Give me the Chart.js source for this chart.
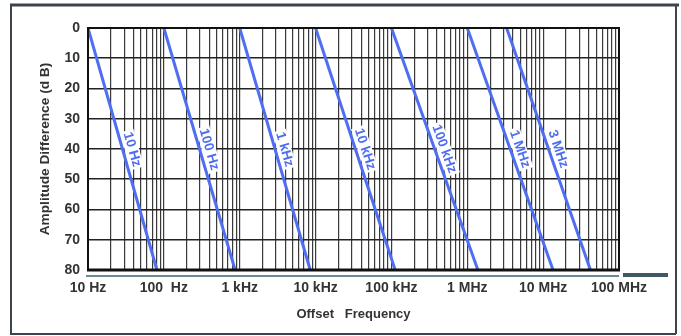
<!DOCTYPE html>
<html>
<head>
<meta charset="utf-8">
<script src="https://cdn.jsdelivr.net/npm/chart.js@4"></script>
<style>
  html, body { margin: 0; padding: 0; background: #fff; }
</style>
</head>
<body>
<canvas id="chart" width="681" height="336"></canvas>
<script>
// one sloped line per filter bandwidth: starts at 0 dB, ends at 80 dB
const lineLabels = ['10 Hz', '100 Hz', '1 kHz', '10 kHz', '100 kHz', '1 MHz', '3 MHz'];
const startFreq = [10, 100, 1000, 10000, 100000, 1000000, 3300000];
const endFreq = [81, 870, 8500, 112000, 1380000, 13500000, 42000000];
const startDb = 0;
const endDb = 80;

const decadeTicks = [10, 100, 1e3, 1e4, 1e5, 1e6, 1e7, 1e8];
const decadeLabels = ['10 Hz', '100  Hz', '1 kHz', '10 kHz', '100 kHz', '1 MHz', '10 MHz', '100 MHz'];
const dbTicks = [0, 10, 20, 30, 40, 50, 60, 70, 80];

const labelDb = 41;
const blue = '#4f6ef0';
const ink = '#333333';
const family = '"Liberation Sans", Arial, sans-serif';

// vertical grid at 1..9 x every decade
const gridTicks = [];
for (let e = 1; e < 8; e++) {
  for (let m = 1; m < 10; m++) gridTicks.push(m * Math.pow(10, e));
}
gridTicks.push(1e8);

const datasets = lineLabels.map((name, i) => ({
  label: name,
  data: [{x: startFreq[i], y: startDb}, {x: endFreq[i], y: endDb}],
  borderColor: blue,
  borderWidth: 3,
  pointRadius: 0,
  fill: false,
}));

const framePlugin = {
  id: 'frame',
  beforeDraw(chart) {
    const c = chart.ctx;
    c.save();
    c.fillStyle = '#fff';
    c.fillRect(0, 0, chart.width, chart.height);
    c.restore();
  },
  afterDraw(chart) {
    const c = chart.ctx;
    const a = chart.chartArea;
    c.save();
    // outer frame
    c.strokeStyle = '#3c434b';
    c.lineWidth = 3;
    c.beginPath(); c.moveTo(10, 5); c.lineTo(679, 5); c.stroke();
    c.lineWidth = 2;
    c.beginPath();
    c.moveTo(11, 4); c.lineTo(11, 334);
    c.moveTo(10, 334); c.lineTo(676, 334);
    c.moveTo(676, 4); c.lineTo(676, 334);
    c.stroke();
    // plot border
    c.strokeStyle = '#111';
    c.lineWidth = 2;
    c.strokeRect(a.left, a.top, a.right - a.left, a.bottom - a.top);
    c.lineWidth = 3;
    c.beginPath(); c.moveTo(a.left - 1, a.bottom); c.lineTo(a.right + 1, a.bottom); c.stroke();
    c.strokeStyle = '#3a6470';
    c.lineWidth = 1.5;
    c.beginPath(); c.moveTo(a.left - 2, a.bottom + 6); c.lineTo(a.right, a.bottom + 6); c.stroke();
    c.strokeStyle = '#3e5866';
    c.lineWidth = 4;
    c.beginPath(); c.moveTo(a.right + 4, a.bottom + 5); c.lineTo(668, a.bottom + 5); c.stroke();
    c.restore();
  }
};

const lineLabelPlugin = {
  id: 'lineLabels',
  afterDatasetsDraw(chart) {
    const c = chart.ctx;
    const xs = chart.scales.x, ys = chart.scales.y;
    c.save();
    c.font = 'bold 13.5px ' + family;
    c.textAlign = 'center';
    c.textBaseline = 'middle';
    lineLabels.forEach((name, i) => {
      const x0 = xs.getPixelForValue(startFreq[i]), y0 = ys.getPixelForValue(startDb);
      const x1 = xs.getPixelForValue(endFreq[i]), y1 = ys.getPixelForValue(endDb);
      const t = (labelDb - startDb) / (endDb - startDb);
      const f = Math.pow(10, Math.log10(startFreq[i]) + (Math.log10(endFreq[i]) - Math.log10(startFreq[i])) * t);
      const px = xs.getPixelForValue(f), py = ys.getPixelForValue(labelDb);
      const ang = Math.atan2(y1 - y0, x1 - x0);
      const w = c.measureText(name).width;
      c.save();
      c.translate(px, py);
      c.rotate(ang);
      c.fillStyle = '#fff';
      c.fillRect(-w / 2 - 2, -16, w + 4, 14);
      c.fillStyle = blue;
      c.fillText(name, 0, -9);
      c.restore();
    });
    c.restore();
  }
};

new Chart(document.getElementById('chart'), {
  type: 'line',
  data: { datasets: datasets },
  options: {
    responsive: false,
    animation: false,
    layout: { padding: { top: 28, left: 33, right: 62, bottom: 10 } },
    plugins: {
      legend: { display: false },
      tooltip: { enabled: false },
    },
    scales: {
      x: {
        type: 'logarithmic',
        min: 10,
        max: 1e8,
        afterBuildTicks(scale) { scale.ticks = gridTicks.map(v => ({ value: v })); },
        afterFit(scale) { scale.height = 56; },
        ticks: {
          autoSkip: false,
          maxRotation: 0,
          padding: 10,
          color: ink,
          font: { family: family, size: 14, weight: 'bold' },
          callback(value) {
            const i = decadeTicks.indexOf(value);
            return i >= 0 ? decadeLabels[i] : '';
          },
        },
        grid: { color: '#3a3a3a', lineWidth: 1.2, drawTicks: false },
        border: { display: false },
        title: {
          display: true,
          text: 'Offset   Frequency',
          color: ink,
          font: { family: family, size: 13, weight: 'bold' },
        },
      },
      y: {
        min: 0,
        max: 80,
        reverse: true,
        afterBuildTicks(scale) { scale.ticks = dbTicks.map(v => ({ value: v })); },
        afterFit(scale) { scale.width = 55; },
        ticks: {
          padding: 8,
          color: ink,
          font: { family: family, size: 14, weight: 'bold' },
        },
        grid: { color: '#222', lineWidth: 1.6, drawTicks: false },
        border: { display: false },
        title: {
          display: true,
          text: 'Amplitude Difference (d B)',
          color: ink,
          font: { family: family, size: 13.7, weight: 'bold' },
        },
      },
    },
  },
  plugins: [framePlugin, lineLabelPlugin],
});
</script>
</body>
</html>
